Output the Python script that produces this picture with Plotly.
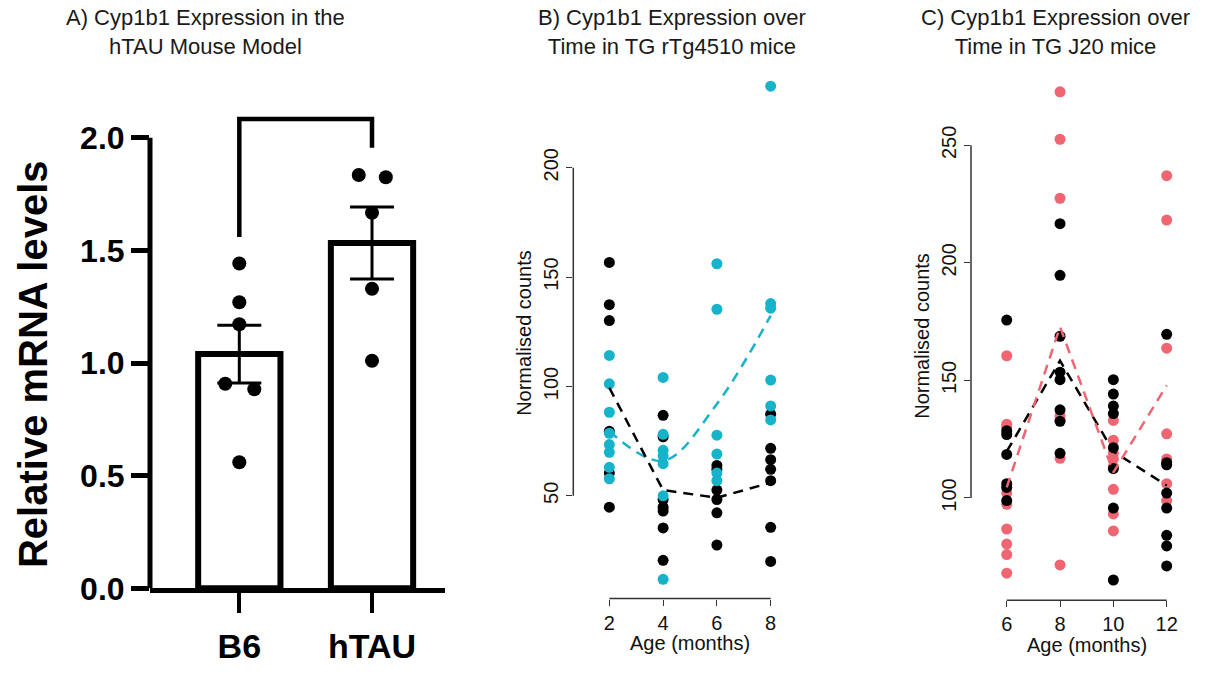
import plotly.graph_objects as go

W, H = 1227, 674

# ---------------- Panel A data ----------------
groups = ["B6", "hTAU"]
bar_means = [1.04, 1.533]
bar_sem = [0.128, 0.16]
b6_vals = [1.442, 1.27, 1.172, 0.908, 0.884, 0.56]
b6_jitter = [0, 0, 0, -0.106, 0.113, 0]
htau_vals = [1.835, 1.825, 1.667, 1.33, 1.01]
htau_jitter = [-0.1, 0.104, 0, 0, 0]
bracket_levels = [1.56, 2.083, 1.956]  # left end, top, right end
a_yticks = [0.0, 0.5, 1.0, 1.5, 2.0]

# ---------------- Panel B data (rTg4510) ----------------
ages_b = [2, 4, 6, 8]
rtg_black = [
    [156.7, 137.4, 130.1, 79.5, 60.4, 44.8],
    [86.8, 77.0, 48.3, 44.8, 43.0, 35.3, 20.5],
    [63.9, 62.1, 52.6, 48.3, 42.2, 27.5],
    [87.3, 71.7, 66.5, 62.1, 56.9, 35.6, 20.0],
]
rtg_cyan = [
    [114.2, 101.2, 88.2, 78.6, 73.4, 69.9, 63.0, 57.8],
    [104.1, 78.1, 70.8, 68.2, 64.7, 50.0, 11.8],
    [156.1, 135.3, 77.7, 69.1, 60.4, 56.9],
    [237.3, 137.9, 135.8, 102.9, 91.1, 84.7],
]
rtg_black_trend = [99.4, 52.6, 49.1, 56.0]
rtg_cyan_trend = [79.5, 66.0, 92.0, 132.4]
b_yticks = [50, 100, 150, 200]

# ---------------- Panel C data (J20) ----------------
ages_c = [6, 8, 10, 12]
j20_black = [
    [175.7, 128.6, 127.0, 118.5, 106.1, 104.5, 98.9],
    [216.7, 194.7, 168.8, 153.5, 150.3, 137.5, 132.6, 119.0],
    [150.3, 144.2, 139.1, 135.9, 121.4, 112.5, 95.7, 65.1],
    [169.6, 115.0, 114.1, 102.1, 95.7, 84.1, 79.6, 71.1],
]
j20_red = [
    [160.5, 131.4, 130.2, 102.1, 97.3, 86.8, 80.4, 75.9, 68.0],
    [272.8, 252.6, 227.5, 135.0, 133.5, 116.9, 71.5],
    [133.0, 124.6, 119.0, 116.6, 113.3, 103.7, 93.2, 86.0],
    [237.1, 218.2, 163.7, 127.3, 116.6, 114.5, 106.1, 98.9],
]
j20_black_trend = [119.8, 158.4, 119.8, 105.3]
j20_red_trend = [104.5, 172.8, 110.9, 147.9]
c_yticks = [100, 150, 200, 250]

CYAN = "#17B3CA"
RED = "#EF6571"
FONT = "Liberation Sans, Arial, sans-serif"


def dx(px):
    return px / W


def dy(px):
    return 1 - px / H


fig = go.Figure()

# ---- Panel A ----
fig.add_trace(go.Bar(
    x=[0, 1], y=bar_means, width=0.62,
    marker=dict(color="white", line=dict(color="black", width=6)),
    error_y=dict(type="data", array=bar_sem, color="black", thickness=3, width=22),
    xaxis="x", yaxis="y", showlegend=False, hoverinfo="skip",
))
fig.add_trace(go.Scatter(
    x=[0 + j for j in b6_jitter], y=b6_vals, mode="markers",
    marker=dict(color="black", size=14), xaxis="x", yaxis="y",
    showlegend=False, cliponaxis=False,
))
fig.add_trace(go.Scatter(
    x=[1 + j for j in htau_jitter], y=htau_vals, mode="markers",
    marker=dict(color="black", size=14), xaxis="x", yaxis="y",
    showlegend=False, cliponaxis=False,
))
fig.add_trace(go.Scatter(
    x=[0, 0, 1, 1], y=[bracket_levels[0], bracket_levels[1], bracket_levels[1], bracket_levels[2]],
    mode="lines", line=dict(color="black", width=4.5), xaxis="x", yaxis="y",
    showlegend=False, cliponaxis=False, hoverinfo="skip",
))

# ---- Panel B ----
for i, a in enumerate(ages_b):
    fig.add_trace(go.Scatter(
        x=[a] * len(rtg_black[i]), y=rtg_black[i], mode="markers",
        marker=dict(color="black", size=11), xaxis="x2", yaxis="y2",
        showlegend=False, cliponaxis=False,
    ))
for i, a in enumerate(ages_b):
    fig.add_trace(go.Scatter(
        x=[a] * len(rtg_cyan[i]), y=rtg_cyan[i], mode="markers",
        marker=dict(color=CYAN, size=11), xaxis="x2", yaxis="y2",
        showlegend=False, cliponaxis=False,
    ))
fig.add_trace(go.Scatter(
    x=ages_b, y=rtg_cyan_trend, mode="lines",
    line=dict(color=CYAN, width=2.5, dash="10px,7px", shape="spline"),
    xaxis="x2", yaxis="y2", showlegend=False,
))
fig.add_trace(go.Scatter(
    x=ages_b, y=rtg_black_trend, mode="lines",
    line=dict(color="black", width=2.5, dash="10px,7px"),
    xaxis="x2", yaxis="y2", showlegend=False,
))

# ---- Panel C ----
for i, a in enumerate(ages_c):
    fig.add_trace(go.Scatter(
        x=[a] * len(j20_red[i]), y=j20_red[i], mode="markers",
        marker=dict(color=RED, size=11), xaxis="x3", yaxis="y3",
        showlegend=False, cliponaxis=False,
    ))
for i, a in enumerate(ages_c):
    fig.add_trace(go.Scatter(
        x=[a] * len(j20_black[i]), y=j20_black[i], mode="markers",
        marker=dict(color="black", size=11), xaxis="x3", yaxis="y3",
        showlegend=False, cliponaxis=False,
    ))
fig.add_trace(go.Scatter(
    x=ages_c, y=j20_black_trend, mode="lines",
    line=dict(color="black", width=2.5, dash="10px,7px"),
    xaxis="x3", yaxis="y3", showlegend=False,
))
fig.add_trace(go.Scatter(
    x=ages_c, y=j20_red_trend, mode="lines",
    line=dict(color=RED, width=2.5, dash="10px,7px"),
    xaxis="x3", yaxis="y3", showlegend=False,
))

common_r = dict(showgrid=False, zeroline=False, showline=False, ticks="outside",
                ticklen=6, tickwidth=1.3, tickcolor="#333",
                tickfont=dict(family=FONT, size=20, color="#111"))

fig.update_layout(
    width=W, height=H, margin=dict(l=0, r=0, t=0, b=0),
    paper_bgcolor="white", plot_bgcolor="white",
    font=dict(family=FONT),
    showlegend=False,
    xaxis=dict(domain=[dx(150), dx(445)], range=[-0.673, 1.55], tickvals=[0, 1], ticktext=groups,
               showgrid=False, zeroline=False, showline=True, linewidth=5, linecolor="black",
               ticks="outside", ticklen=20, tickwidth=4, tickcolor="black", ticklabelstandoff=4,
               tickfont=dict(family=FONT, size=34, color="black", weight="bold"), anchor="y"),
    yaxis=dict(domain=[dy(604.5), dy(118.4)], range=[0, 2.1], tickvals=a_yticks,
               ticktext=[f"{v:.1f}" for v in a_yticks],
               showgrid=False, zeroline=False, showline=False,
               ticks="outside", ticklen=18, tickwidth=5, tickcolor="black",
               tickfont=dict(family=FONT, size=32, color="black", weight="bold"), anchor="x"),
    xaxis2=dict(domain=[dx(573.3), dx(806.7)], range=[0.66, 9.34], tickvals=ages_b, anchor="y2", **common_r),
    yaxis2=dict(domain=[dy(615), dy(69)], range=[3, 246], tickvals=b_yticks, tickangle=-90, anchor="x2", **common_r),
    xaxis3=dict(domain=[dx(971), dx(1202.4)], range=[4.66, 13.34], tickvals=ages_c, anchor="y3", **common_r),
    yaxis3=dict(domain=[dy(616.7), dy(74)], range=[56.5, 281.2], tickvals=c_yticks, tickangle=-90, anchor="x3", **common_r),
)

shapes = [
    # panel A y-axis line (0 to 2.0)
    dict(type="line", xref="x domain", yref="y", x0=0, x1=0, y0=a_yticks[0], y1=a_yticks[-1],
         line=dict(color="black", width=5)),
    # panel B axis lines spanning tick range
    dict(type="line", xref="x2", yref="y2 domain", x0=ages_b[0], x1=ages_b[-1], y0=0, y1=0,
         line=dict(color="#333", width=1.5)),
    dict(type="line", xref="x2 domain", yref="y2", x0=0, x1=0, y0=b_yticks[0], y1=b_yticks[-1],
         line=dict(color="#333", width=1.5)),
    # panel C axis lines
    dict(type="line", xref="x3", yref="y3 domain", x0=ages_c[0], x1=ages_c[-1], y0=0, y1=0,
         line=dict(color="#333", width=1.5)),
    dict(type="line", xref="x3 domain", yref="y3", x0=0, x1=0, y0=c_yticks[0], y1=c_yticks[-1],
         line=dict(color="#333", width=1.5)),
]
fig.update_layout(shapes=shapes)

title_font = dict(family=FONT, size=22, color="#1a1a1a")
label_font = dict(family=FONT, size=20, color="#111")
annotations = [
    dict(text="A) Cyp1b1 Expression in the<br>hTAU Mouse Model", x=dx(205), y=dy(33),
         xref="paper", yref="paper", showarrow=False, font=title_font, xanchor="center", yanchor="middle"),
    dict(text="B) Cyp1b1 Expression over<br>Time in TG rTg4510 mice", x=dx(672), y=dy(33),
         xref="paper", yref="paper", showarrow=False, font=title_font, xanchor="center", yanchor="middle"),
    dict(text="C) Cyp1b1 Expression over<br>Time in TG J20 mice", x=dx(1055), y=dy(33),
         xref="paper", yref="paper", showarrow=False, font=title_font, xanchor="center", yanchor="middle"),
    dict(text="<b>Relative mRNA levels</b>", x=dx(33), y=dy(374), textangle=-90,
         xref="paper", yref="paper", showarrow=False,
         font=dict(family=FONT, size=40, color="black"), xanchor="center", yanchor="middle"),
    dict(text="Normalised counts", x=dx(524), y=dy(342), textangle=-90,
         xref="paper", yref="paper", showarrow=False, font=label_font, xanchor="center", yanchor="middle"),
    dict(text="Normalised counts", x=dx(922), y=dy(345), textangle=-90,
         xref="paper", yref="paper", showarrow=False, font=label_font, xanchor="center", yanchor="middle"),
    dict(text="Age (months)", x=dx(690), y=dy(661),
         xref="paper", yref="paper", showarrow=False, font=label_font, xanchor="center", yanchor="middle"),
    dict(text="Age (months)", x=dx(1087), y=dy(663),
         xref="paper", yref="paper", showarrow=False, font=label_font, xanchor="center", yanchor="middle"),
]
fig.update_layout(annotations=annotations)

fig.write_html("out.html")
